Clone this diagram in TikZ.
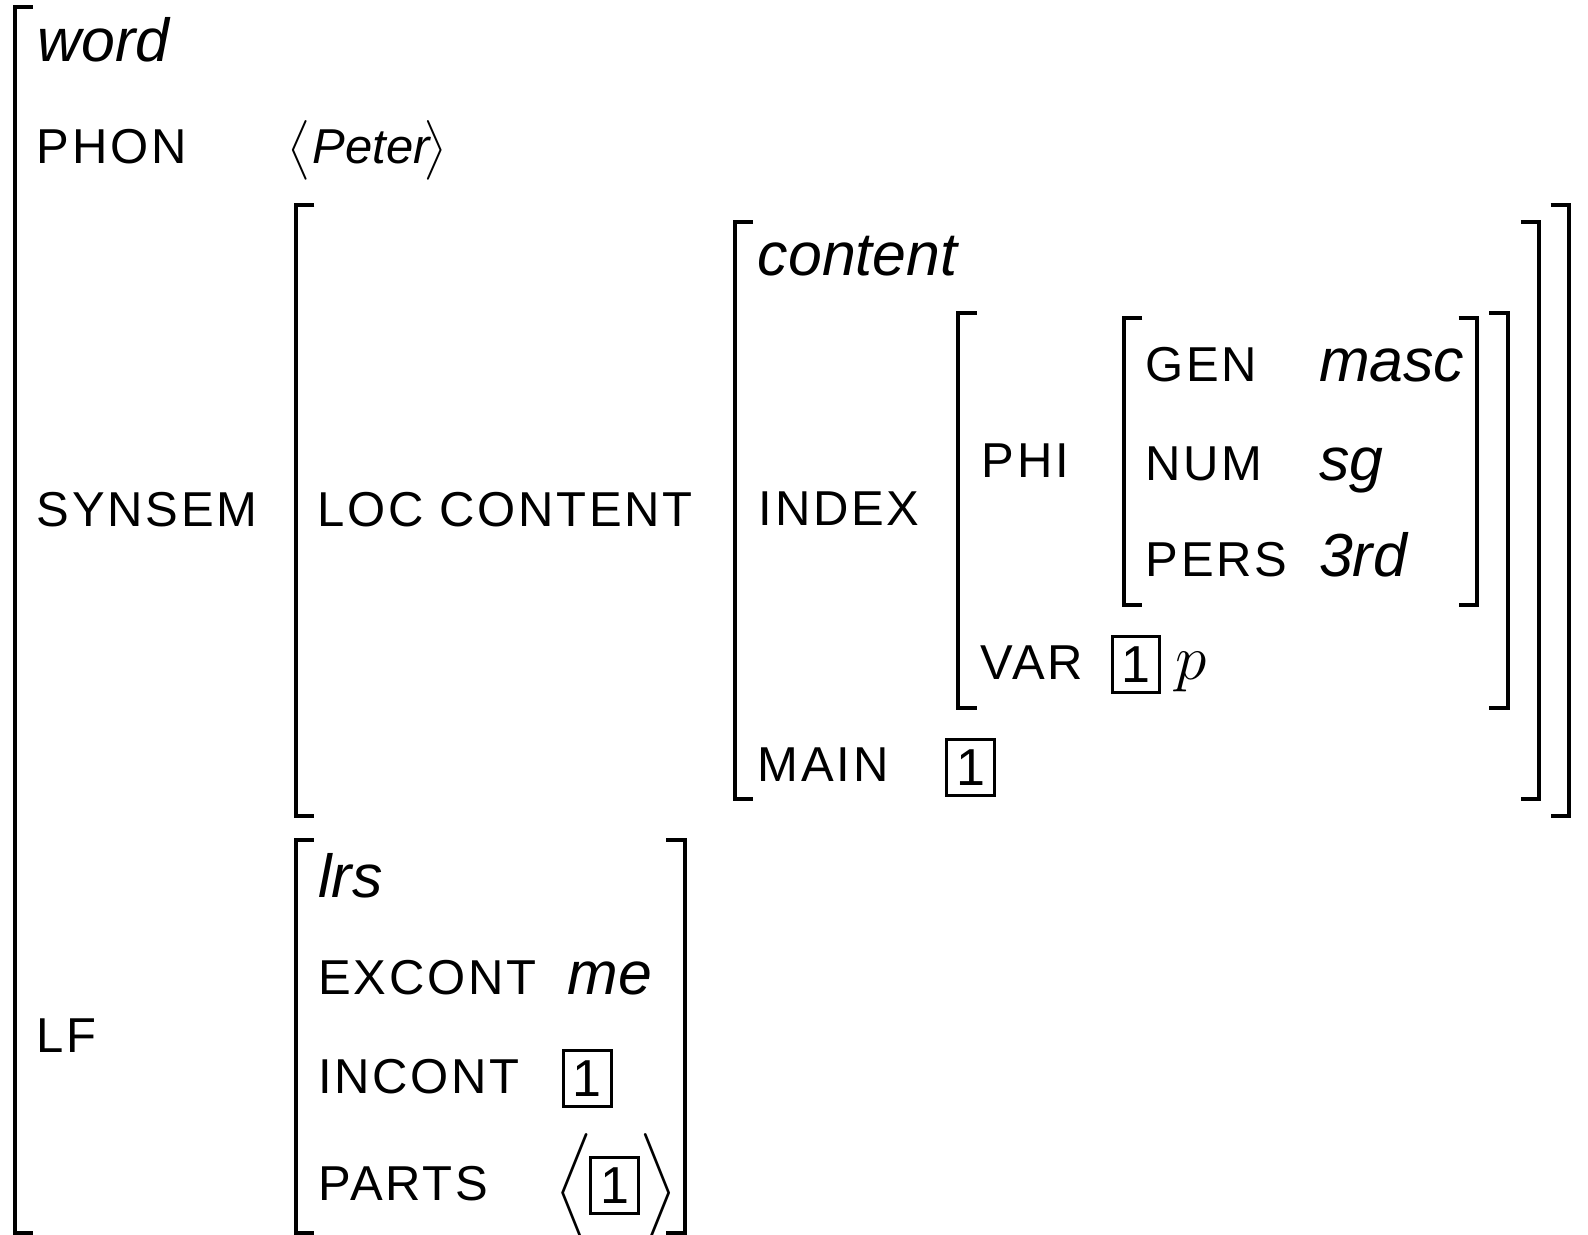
\RequirePackage{fix-cm}
\documentclass[tikz,border=0pt]{standalone}
\usepackage{amsmath}
\usepackage{fontspec}
\setmainfont{Liberation Sans}
\newfontfamily\attrfont[LetterSpace=5.5]{Liberation Sans}
\usetikzlibrary{positioning}
% one step up from the plain angle brackets
\newcommand{\avmlangle}{\left\langle\vcenter to 28pt{}\right.}
\newcommand{\avmrangle}{\left.\vcenter to 28pt{}\right\rangle}

\begin{document}
\begin{tikzpicture}[x=0.5064pt,y=-0.5064pt,
    attr/.style={anchor=base west,inner sep=0pt,font=\attrfont\fontsize{24.5}{29}\selectfont},
    val/.style={anchor=base west,inner sep=0pt,font=\fontsize{30.4}{36}\selectfont\itshape},
    tagbox/.style={draw,line width=1.5pt,inner sep=0pt,minimum width=23.8pt,minimum height=28pt,
      font=\fontsize{26}{30}\selectfont},
    brk/.style={line width=2pt,line join=miter}]
  \useasboundingbox (0,0) rectangle (1568,1219);

  % brackets: word, synsem, content, index, phi, lrs
  \draw[brk] (32.5,6.6) -| (14.5,1217) -- (32.5,1217);
  \draw[brk] (310.3,202) -| (292.3,806) -- (310.3,806);
  \draw[brk] (1531,202) -| (1549,806) -- (1531,806);
  \draw[brk] (743.6,219) -| (725.6,789) -- (743.6,789);
  \draw[brk] (1501.6,219) -| (1519.6,789) -- (1501.6,789);
  \draw[brk] (964.4,309) -| (946.4,699) -- (964.4,699);
  \draw[brk] (1470.5,309) -| (1488.5,699) -- (1470.5,699);
  \draw[brk] (1128,314) -| (1110,597) -- (1128,597);
  \draw[brk] (1440.3,314) -| (1458.3,597) -- (1440.3,597);
  \draw[brk] (310,829) -| (292,1217) -- (310,1217);
  \draw[brk] (658,829) -| (676,1217) -- (658,1217);

  % word
  \node[val] (word) at (37,61) {word};
  \node[attr] (phon) at (36,161) {PHON};
  \node[attr,font=\fontsize{24.5}{29}\selectfont\itshape] (phonval) at (283,161)
    {$\avmlangle$Peter\hspace{-4.5pt}$\avmrangle$};
  \node[attr] (synsem) at (36,520) {SYNSEM};
  \node[attr] (lf) at (36,1039) {LF};

  % synsem value
  \node[attr] (loccont) at (313,520) {LOC CONTENT};
  \node[val] (content) at (748,272) {content};
  \node[attr] (index) at (749,519) {INDEX};
  \node[attr] (main) at (748,772) {MAIN};
  \node[tagbox] (maintag) at (958.5,757.5) {1};

  % index value
  \node[attr] (phi) at (969,471) {PHI};
  \node[attr] (var) at (968,671) {VAR};
  \node[tagbox] (vartag) at (1121.5,656) {1};
  \node[val,font=\fontsize{31.8}{38}\selectfont] (varp) at (1160,671) {$p$};
  \node[attr] (gen) at (1131,377) {GEN};
  \node[val] (masc) at (1302,377) {masc};
  \node[attr] (num) at (1131,474) {NUM};
  \node[val] (sg) at (1302,474) {sg};
  \node[attr] (pers) at (1131,569) {PERS};
  \node[val] (third) at (1302,569) {3rd};

  % lf value
  \node[val] (lrs) at (314,886) {lrs};
  \node[attr] (excont) at (314,982) {EXCONT};
  \node[val] (me) at (560,982) {me};
  \node[attr] (incont) at (314,1080) {INCONT};
  \node[tagbox] (incontag) at (580,1065) {1};
  \node[attr] (parts) at (314,1185) {PARTS};
  \node[tagbox] (partstag) at (607,1171) {1};
  \node[val] (partsl) at (548,1193) {$\Big\langle$};
  \node[val] (partsr) at (631,1193) {$\Big\rangle$};
\end{tikzpicture}
\end{document}
